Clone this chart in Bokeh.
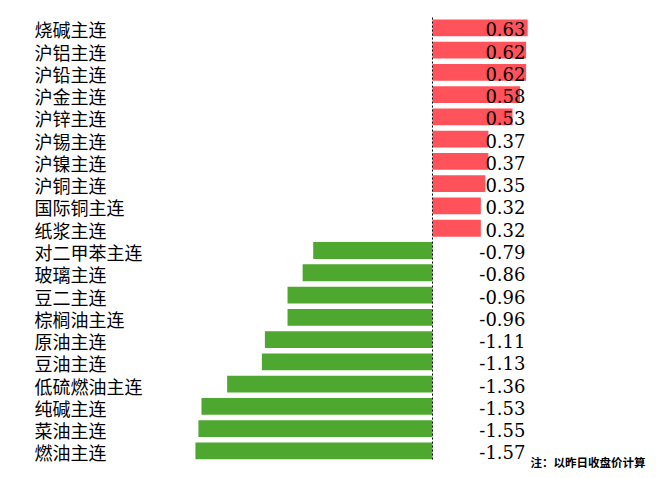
from bokeh.plotting import figure
from bokeh.models import Range1d, ColumnDataSource, Label
from bokeh.core.properties import value
from bokeh.embed import file_html
from bokeh.resources import INLINE

categories = ["烧碱主连", "沪铝主连", "沪铅主连", "沪金主连", "沪锌主连", "沪锡主连", "沪镍主连",
              "沪铜主连", "国际铜主连", "纸浆主连", "对二甲苯主连", "玻璃主连", "豆二主连",
              "棕榈油主连", "原油主连", "豆油主连", "低硫燃油主连", "纯碱主连", "菜油主连", "燃油主连"]
values = [0.63, 0.62, 0.62, 0.58, 0.53, 0.37, 0.37, 0.35, 0.32, 0.32,
          -0.79, -0.86, -0.96, -0.96, -1.11, -1.13, -1.36, -1.53, -1.55, -1.57]
note = "注：以昨日收盘价计算"

RED = "#FF525A"
GREEN = "#4EA72E"

W, H = 657, 470
x0_px, xscale = 432.0, 151.0
y0_px, yscale = 27.3, 22.27

n = len(categories)
idx = list(range(n))
src = ColumnDataSource(dict(
    y=idx,
    v=values,
    cat=categories,
    lbl=["%.2f" % v for v in values],
    color=[RED if v >= 0 else GREEN for v in values],
))

p = figure(width=W, height=H, output_backend="svg", toolbar_location=None,
           x_range=Range1d(-x0_px / xscale, (W - x0_px) / xscale),
           y_range=Range1d((H - y0_px) / yscale, -y0_px / yscale),
           min_border=0, min_border_left=0, min_border_right=0,
           min_border_top=0, min_border_bottom=0)
p.axis.visible = False
p.grid.visible = False
p.outline_line_color = None
p.background_fill_color = "white"
p.border_fill_color = "white"

p.hbar(y="y", left=0, right="v", height=0.755, fill_color="color", line_color=None, source=src)

# dotted zero line
p.segment(x0=[0], y0=[-0.46], x1=[0], y1=[n - 1 + 0.43], line_color="black",
          line_width=1, line_dash="2 2")

# category labels
p.text(x=p.x_range.start, y="y", text="cat", source=src, x_offset=34, y_offset=1.5,
       text_align="left", text_baseline="middle", text_font=value("Noto Sans CJK SC"),
       text_font_size="18px", text_color="black")

# value labels
p.text(x=0, y="y", text="lbl", source=src, x_offset=93, y_offset=1.5,
       text_align="right", text_baseline="middle", text_font=value("DejaVu Serif"),
       text_font_size="18px", text_color="black")

p.add_layout(Label(x=530, y=H - 461, x_units="screen", y_units="screen", text=note,
                   text_font="Noto Sans CJK SC", text_font_style="bold",
                   text_font_size="11.5px", text_baseline="middle", text_align="left",
                   text_color="black"))

open("out.html", "w").write(file_html(p, INLINE))
